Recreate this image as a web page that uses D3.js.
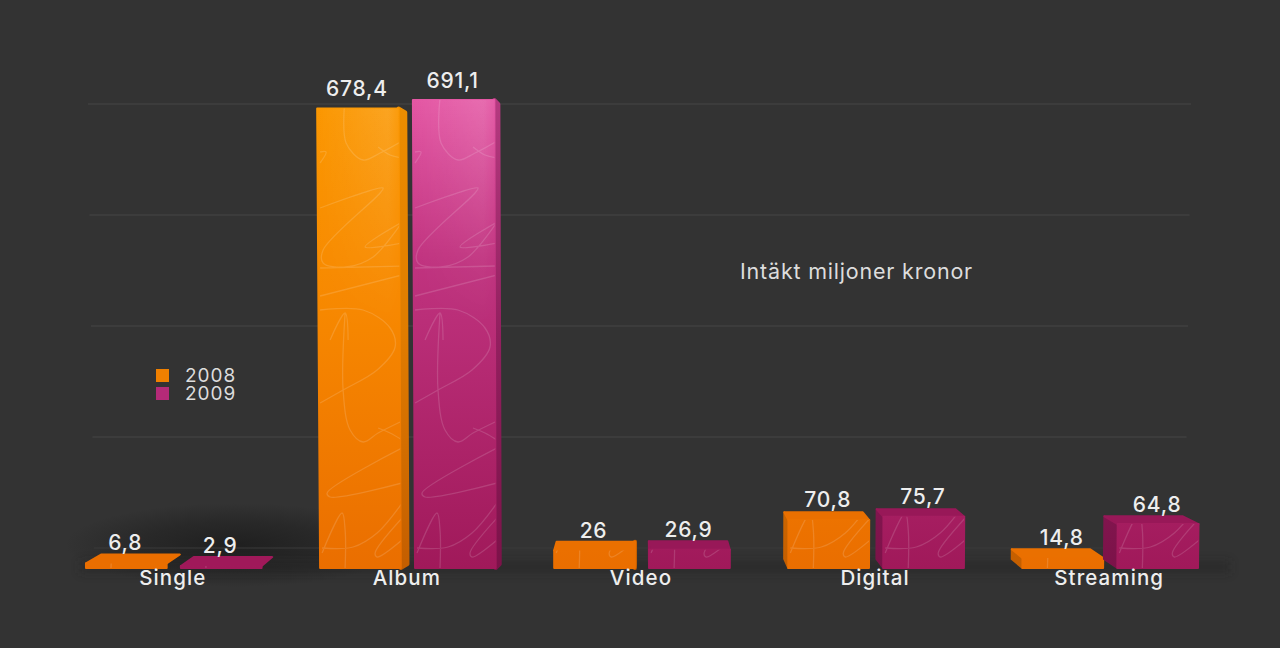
<!DOCTYPE html>
<html>
<head>
<meta charset="utf-8">
<script src="https://cdn.jsdelivr.net/npm/d3@7"></script>
<style>
  html, body { margin: 0; background: #333; overflow: hidden; }
  text { font-family: Inter, "Open Sans", sans-serif; fill: #eee; }
</style>
</head>
<body>
<svg id="chart" width="1280" height="648"></svg>
<script>
const categories = ['Single', 'Album', 'Video', 'Digital', 'Streaming'];
const years = ['2008', '2009'];
const values2008 = [6.8, 678.4, 26, 70.8, 14.8];
const values2009 = [2.9, 691.1, 26.9, 75.7, 64.8];
const valueLabels2008 = ['6,8', '678,4', '26', '70,8', '14,8'];
const valueLabels2009 = ['2,9', '691,1', '26,9', '75,7', '64,8'];
const gridTicks = [0, 200, 400, 600, 800];
const annotation = 'Intäkt miljoner kronor';

const svg = d3.select('#chart');
const defs = svg.append('defs');

const x0 = d3.scaleBand().domain(categories).range([86, 1198]).paddingInner(0.25);
const x1 = d3.scaleBand().domain(years).range([0, x0.bandwidth()]).paddingInner(0.15);
const y = d3.scaleLinear().domain([0, 691.1]).range([568, 100]);
const gridY = d3.scaleLinear().domain([0, 800]).range([548, 104]);

// simple camera: depth pulls points to the vanishing point, lean is the slight upward tilt
const vanish = {x: 640, y: 245};
const depth = 0.028;
function project(px, py, back) {
  const lean = (568 - py) * (px - vanish.x) * 2e-5;
  if (!back) return [px + lean, py];
  return [px + lean + (vanish.x - px) * depth, py + (vanish.y - py) * depth];
}

function vGrad(id, stops) {
  const g = defs.append('linearGradient').attr('id', id)
    .attr('gradientUnits', 'userSpaceOnUse')
    .attr('x1', 0).attr('x2', 0).attr('y1', y(691.1)).attr('y2', y(0));
  stops.forEach(s => g.append('stop').attr('offset', s[0]).attr('stop-color', s[1]));
}
vGrad('front2008', [[0, '#fb9802'], [0.45, '#f78800'], [1, '#ea6e00']]);
vGrad('front2009', [[0, '#e457a4'], [0.35, '#c0337f'], [1, '#a0195a']]);
vGrad('side2008', [[0, '#ec8e00'], [0.5, '#e07c00'], [1, '#c45e00']]);
vGrad('side2009', [[0, '#b53a80'], [0.5, '#93205f'], [1, '#7c1249']]);

const shine = defs.append('linearGradient').attr('id', 'shine');
shine.append('stop').attr('offset', 0).attr('stop-color', '#fff').attr('stop-opacity', 0);
shine.append('stop').attr('offset', 0.85).attr('stop-color', '#fff').attr('stop-opacity', 0.13);
shine.append('stop').attr('offset', 1).attr('stop-color', '#fff').attr('stop-opacity', 0.03);
const fade = defs.append('linearGradient').attr('id', 'fade')
  .attr('gradientUnits', 'userSpaceOnUse').attr('x1', 0).attr('x2', 0).attr('y1', 100).attr('y2', 330);
fade.append('stop').attr('offset', 0).attr('stop-color', '#fff');
fade.append('stop').attr('offset', 1).attr('stop-color', '#000');
defs.append('mask').attr('id', 'shineMask').attr('maskUnits', 'userSpaceOnUse')
  .attr('x', 0).attr('y', 0).attr('width', 1280).attr('height', 648)
  .append('rect').attr('width', 1280).attr('height', 648).attr('fill', 'url(#fade)');

const glow = defs.append('radialGradient').attr('id', 'floorShadow');
glow.append('stop').attr('offset', 0).attr('stop-color', '#1c1c1c').attr('stop-opacity', 0.85);
glow.append('stop').attr('offset', 0.55).attr('stop-color', '#1c1c1c').attr('stop-opacity', 0.45);
glow.append('stop').attr('offset', 1).attr('stop-color', '#1c1c1c').attr('stop-opacity', 0);

defs.append('filter').attr('id', 'blurSmall').attr('filterUnits', 'userSpaceOnUse')
  .attr('x', 0).attr('y', 0).attr('width', 1280).attr('height', 648)
  .append('feGaussianBlur').attr('stdDeviation', 5);

// background
svg.append('rect').attr('width', 1280).attr('height', 648).attr('fill', '#333');
svg.append('ellipse').attr('cx', 235).attr('cy', 545).attr('rx', 170).attr('ry', 42)
  .attr('fill', 'url(#floorShadow)');
svg.append('rect').attr('x', 80).attr('y', 561).attr('width', 1150).attr('height', 12)
  .attr('fill', '#222').attr('opacity', 0.45).attr('filter', 'url(#blurSmall)');

// grid on the back wall, lines get a little wider towards the top
svg.append('g').selectAll('line').data(gridTicks).enter().append('line')
  .attr('x1', d => 94 - d * 0.0075)
  .attr('x2', d => 1185 + d * 0.0075)
  .attr('y1', d => gridY(d))
  .attr('y2', d => gridY(d))
  .attr('stroke', d => d === 0 ? '#3b3b3b' : '#474747')
  .attr('stroke-width', 1);

// handwriting texture on the bars, measured from the bar foot
const scribbleStrokes = [
  [[2, -15], [22, -55], [25, -38], [25, 0]],
  [[2, -20], [33, -21], [57, -35], [82, -65]],
  [[82, -50], [55, -15], [57, -11], [82, -28]],
  [[82, -120], [7, -75], [10, -71], [82, -85]],
  [[25, -255], [23, -178], [30, -138], [43, -126], [58, -135], [80, -146]],
  [[58, -140], [70, -135], [82, -128]],
  [[0, -165], [23, -178], [57, -198], [75, -221], [70, -240], [43, -258], [0, -258]],
  [[10, -228], [25, -255], [28, -228]],
  [[0, -272], [82, -293]],
  [[0, -300], [82, -302]],
  [[0, -360], [63, -380], [60, -375], [3, -318], [3, -305], [26, -301], [53, -311], [82, -346]],
  [[82, -325], [45, -321], [82, -346]],
  [[25, -470], [26, -425], [43, -408], [60, -415], [82, -427]],
  [[58, -421], [70, -413], [82, -410]],
  [[0, -416], [6, -416], [0, -405]]
];
const scribbleLine = d3.line().curve(d3.curveCatmullRom.alpha(0.5));
const scribble = scribbleStrokes.map(s => scribbleLine(s)).join(' ');

const poly = pts => 'M' + pts.map(p => p.join(',')).join('L') + 'Z';

const rows = [];
categories.forEach((c, i) => {
  rows.push({cat: c, year: '2008', value: values2008[i], label: valueLabels2008[i], i});
  rows.push({cat: c, year: '2009', value: values2009[i], label: valueLabels2009[i], i});
});

rows.forEach((d, n) => {
  const left = x0(d.cat) + x1(d.year);
  const right = left + x1.bandwidth();
  const top = y(d.value);
  const base = y(0);
  const g = svg.append('g');
  const fl = project(left, top), fr = project(right, top);
  const bl = project(left, top, true), br = project(right, top, true);
  const blBase = project(left, base, true), brBase = project(right, base, true);
  const front = poly([fl, fr, project(right, base), project(left, base)]);
  const topFill = d.year === '2008' ? '#ea7000' : '#981858';

  const face = (path, fill, w) => g.append('path').attr('d', path).attr('fill', fill)
    .attr('stroke', fill).attr('stroke-width', w || 2).attr('stroke-linejoin', 'round');

  const sideFill = `url(#side${d.year})`;
  // side facing the camera: right hand side left of centre, left hand side right of centre
  // very low bars read as one flat slab, so they get no side
  if (base - top > 8) {
    if (right < vanish.x) {
      if (br[0] > fr[0]) face(poly([fr, br, [brBase[0], base - 4], project(right, base)]), sideFill, 4);
    } else if (left > vanish.x) {
      face(poly([fl, bl, blBase, project(left, base)]), sideFill);
    }
  }
  // top face only shows below the eye height
  if (top > vanish.y) {
    face(poly([fl, fr, br, bl]), base - top > 8 ? topFill : (d.year === '2008' ? '#ea6e00' : '#a0195a'));
  }
  face(front, `url(#front${d.year})`);

  const clipId = 'clip' + n;
  defs.append('clipPath').attr('id', clipId).append('path').attr('d', front);
  g.append('path').attr('d', front).attr('fill', 'url(#shine)').attr('mask', 'url(#shineMask)');
  g.append('g').attr('clip-path', `url(#${clipId})`)
    .append('path').attr('d', scribble)
    .attr('transform', `translate(${left},${base})`)
    .attr('fill', 'none').attr('stroke', '#fff').attr('stroke-opacity', 0.14).attr('stroke-width', 1.3);

  const highest = Math.min(fl[1], bl[1]);
  svg.append('text')
    .attr('x', (fl[0] + fr[0]) / 2 - 1)
    .attr('y', highest - 4 - (base - top) * 0.018)
    .attr('text-anchor', 'middle')
    .attr('font-size', 21).attr('font-weight', 500).attr('letter-spacing', 0.8)
    .text(d.label);
});

// category labels
svg.append('g').selectAll('text').data(categories).enter().append('text')
  .attr('x', d => x0(d) + x0.bandwidth() / 2 - 1)
  .attr('y', 585)
  .attr('text-anchor', 'middle')
  .attr('font-size', 20.5).attr('font-weight', 500).attr('letter-spacing', 1.1)
  .text(d => d);

// legend
const legend = svg.append('g').selectAll('g').data(years).enter().append('g')
  .attr('transform', (d, i) => `translate(156,${369 + i * 18})`);
legend.append('rect').attr('width', 13).attr('height', 13)
  .attr('fill', d => d === '2008' ? '#f08000' : '#b52a78');
legend.append('text').attr('x', 29).attr('y', 13)
  .attr('font-size', 19).attr('letter-spacing', 1).style('fill', '#ddd').text(d => d);

svg.append('text').attr('x', 740).attr('y', 279)
  .attr('font-size', 21.5).attr('letter-spacing', 0.8).style('fill', '#ddd').text(annotation);
</script>
</body>
</html>
